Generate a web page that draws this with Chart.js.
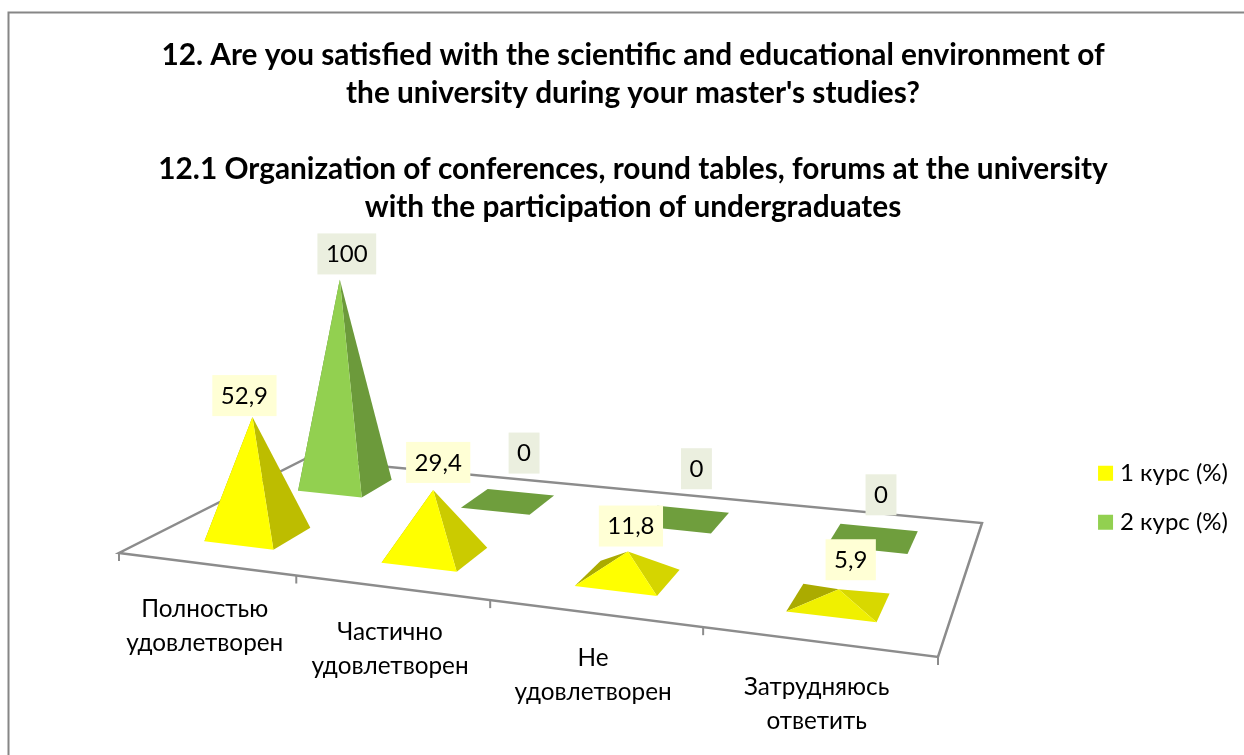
<!DOCTYPE html>
<html>
<head>
<meta charset="utf-8">
<style>
    body { margin: 0; background: #fff; }
    canvas { display: block; }
</style>
<script src="https://cdn.jsdelivr.net/npm/chart.js@4"></script>
</head>
<body>
<canvas id="grafico" width="1244" height="755"></canvas>
<script>
var categorias = [
    ['Полностью', 'удовлетворен'],
    ['Частично', 'удовлетворен'],
    ['Не', 'удовлетворен'],
    ['Затрудняюсь', 'ответить']
];
var curso1 = [52.9, 29.4, 11.8, 5.9];
var curso2 = [100, 0, 0, 0];
var rotulos1 = ['52,9', '29,4', '11,8', '5,9'];
var rotulos2 = ['100', '0', '0', '0'];
var titulo = [
    '12. Are you satisfied with the scientific and educational environment of',
    "the university during your master's studies?",
    '',
    '12.1 Organization of conferences, round tables, forums at the university',
    'with the participation of undergraduates'
];

var fonte = 'Lato, "Noto Sans", sans-serif';

// cantos do piso: frente-esq, frente-dir, fundo-dir, fundo-esq
var piso = [[119, 553], [938, 657], [982, 523], [305, 459]];
var profundidade = [0.26, 0.77];
var meiaProfundidade = 0.1;

// deslocamento manual dos rotulos (dx, dy), como no original
var ajuste1 = [[-11, 4], [2, -2], [0, 0], [9, -4]];
var ajuste2 = [[4, 0], [6, 1], [3, -1], [-2, 6]];

// projecao do quadrado (u, v) para o quadrilatero do piso
function criarProjecao(q) {
    var dx1 = q[1][0] - q[2][0], dx2 = q[3][0] - q[2][0];
    var dy1 = q[1][1] - q[2][1], dy2 = q[3][1] - q[2][1];
    var sx = q[0][0] - q[1][0] + q[2][0] - q[3][0];
    var sy = q[0][1] - q[1][1] + q[2][1] - q[3][1];
    var den = dx1 * dy2 - dx2 * dy1;
    var g = (sx * dy2 - dx2 * sy) / den;
    var h = (dx1 * sy - sx * dy1) / den;
    var a = q[1][0] - q[0][0] + g * q[1][0];
    var b = q[3][0] - q[0][0] + h * q[3][0];
    var d = q[1][1] - q[0][1] + g * q[1][1];
    var e = q[3][1] - q[0][1] + h * q[3][1];
    return function(u, v) {
        // pequeno ajuste: a perspectiva do original e um pouco mais suave
        u = u + 0.026 * u * (1 - u);
        var w = 1 + g * u + h * v;
        return [(a * u + b * v + q[0][0]) / w, (d * u + e * v + q[0][1]) / w];
    };
}
var projetar = criarProjecao(piso);

function escurecer(cor, f) {
    return 'rgb(' + cor.map(function(c) { return Math.round(c * f); }).join(',') + ')';
}

function poligono(ctx, pontos, cor) {
    ctx.beginPath();
    pontos.forEach(function(p, i) {
        if (i === 0) ctx.moveTo(p[0], p[1]);
        else ctx.lineTo(p[0], p[1]);
    });
    ctx.closePath();
    ctx.fillStyle = cor;
    ctx.fill();
}

function desenharPiramide(ctx, bar, area, v, cor) {
    var u = (bar.x - area.left) / area.width;
    var du = bar.width / 2 / area.width;
    var fe = projetar(u - du, v - meiaProfundidade);
    var fd = projetar(u + du, v - meiaProfundidade);
    var td = projetar(u + du, v + meiaProfundidade);
    var te = projetar(u - du, v + meiaProfundidade);
    var c = projetar(u, v);
    var altura = (bar.base - bar.y) / (1 + 0.16 * v);

    if (altura === 0) {
        poligono(ctx, [fe, fd, td, te], escurecer(cor, 0.76));
        return { x: c[0] + 10, y: c[1] - 29 };
    }

    var topo = [c[0] - 15 * Math.max(0, 0.5 - u), c[1] - altura];
    var t = Math.min(altura / 120, 1);
    poligono(ctx, [fe, te, topo], escurecer(cor, 0.67));
    poligono(ctx, [fd, td, topo], escurecer(cor, 0.86 - 0.12 * t));
    poligono(ctx, [fe, fd, topo], escurecer(cor, altura < 20 ? 0.94 : 1));
    return { x: topo[0] + 3, y: topo[1] - 5 };
}

function desenharRotulo(ctx, texto, pos, ajuste, fundo) {
    var x = pos.x + ajuste[0];
    var y = pos.y + ajuste[1];
    ctx.font = '24px ' + fonte;
    var larg = ctx.measureText(texto).width + 17;
    ctx.fillStyle = fundo;
    ctx.fillRect(x - larg / 2, y - 41, larg, 41);
    ctx.fillStyle = '#000';
    ctx.textAlign = 'center';
    ctx.textBaseline = 'middle';
    ctx.fillText(texto, x, y - 20);
}

var plugin3d = {
    id: 'plugin3d',
    beforeDraw: function(chart) {
        // moldura do grafico
        var ctx = chart.ctx;
        ctx.strokeStyle = '#868686';
        ctx.lineWidth = 2;
        ctx.beginPath();
        ctx.moveTo(8.5, 756);
        ctx.lineTo(8.5, 12.5);
        ctx.lineTo(1245, 12.5);
        ctx.stroke();
    },
    beforeDatasetsDraw: function(chart) {
        var ctx = chart.ctx;
        var area = chart.scales.x;

        ctx.save();
        ctx.strokeStyle = '#8c8c8c';
        ctx.lineWidth = 2.5;
        ctx.beginPath();
        piso.forEach(function(p, i) {
            if (i === 0) ctx.moveTo(p[0], p[1]);
            else ctx.lineTo(p[0], p[1]);
        });
        ctx.closePath();
        ctx.stroke();

        // marcas e nomes das categorias na borda da frente
        categorias.forEach(function(nome, i) {
            var n = categorias.length;
            var p = projetar((i + 0.5) / n, 0);
            ctx.font = '24.3px ' + fonte;
            ctx.fillStyle = '#000';
            ctx.textAlign = 'center';
            ctx.textBaseline = 'middle';
            nome.forEach(function(linha, j) {
                ctx.fillText(linha, p[0] - 1, p[1] + 45 + j * 34);
            });
        });
        ctx.lineWidth = 2;
        for (var i = 0; i <= categorias.length; i++) {
            var m = projetar(i / categorias.length, 0);
            ctx.beginPath();
            ctx.moveTo(m[0], m[1]);
            ctx.lineTo(m[0], m[1] + 8);
            ctx.stroke();
        }

        // primeiro a serie do fundo, depois a da frente
        var posicoes = [[], []];
        [1, 0].forEach(function(d) {
            var cor = d === 0 ? [255, 255, 0] : [146, 208, 80];
            chart.getDatasetMeta(d).data.forEach(function(bar, i) {
                posicoes[d][i] = desenharPiramide(ctx, bar, area, profundidade[d], cor);
            });
        });
        posicoes[1].forEach(function(pos, i) {
            desenharRotulo(ctx, rotulos2[i], pos, ajuste2[i], '#ebefdf');
        });
        posicoes[0].forEach(function(pos, i) {
            desenharRotulo(ctx, rotulos1[i], pos, ajuste1[i], '#ffffd5');
        });
        ctx.restore();
        return false;
    }
};

new Chart(document.getElementById('grafico'), {
    type: 'bar',
    data: {
        labels: categorias,
        datasets: [
            { label: '1 курс (%)', data: curso1, backgroundColor: '#ffff00' },
            { label: '2 курс (%)', data: curso2, backgroundColor: '#92d050' }
        ]
    },
    options: {
        responsive: false,
        animation: false,
        layout: { padding: { left: 28, top: 36, bottom: 3, right: 6 } },
        datasets: { bar: { grouped: false, barPercentage: 0.4, categoryPercentage: 1 } },
        scales: {
            x: { display: false },
            y: { display: false, min: 0, max: 220 }
        },
        plugins: {
            title: {
                display: true,
                text: titulo,
                color: '#000',
                font: { family: fonte, size: 29.8, weight: 'bold', lineHeight: '38px' },
                padding: { top: 0, bottom: 17.5 }
            },
            legend: {
                position: 'right',
                fullSize: false,
                labels: {
                    usePointStyle: true,
                    pointStyle: 'rect',
                    boxWidth: 5,
                    boxHeight: 15,
                    padding: 25,
                    color: '#000',
                    font: { family: fonte, size: 24 }
                }
            },
            tooltip: { enabled: false }
        }
    },
    plugins: [plugin3d]
});
</script>
</body>
</html>
